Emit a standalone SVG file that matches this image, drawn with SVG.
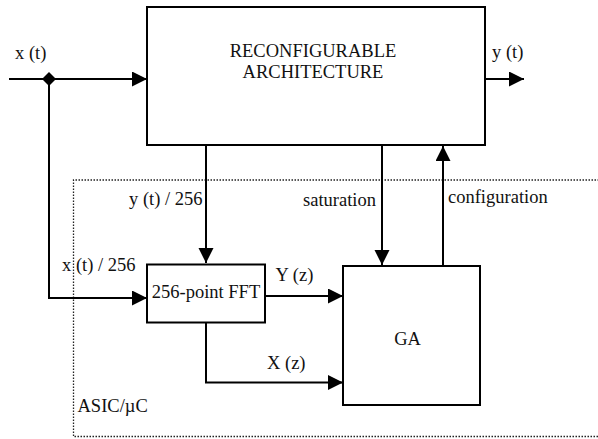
<svg xmlns="http://www.w3.org/2000/svg" width="598" height="439" viewBox="0 0 598 439">
<defs>
<marker id="arr" markerWidth="16" markerHeight="16" refX="15" refY="7.5" orient="auto" markerUnits="userSpaceOnUse">
<path d="M0,0 L15,7.5 L0,15 Z" fill="#000"/>
</marker>
</defs>
<style>
.t{font-family:"Liberation Serif","Times New Roman",serif;font-size:18.5px;fill:#111}
.box{fill:#fff;stroke:#000;stroke-width:2}
.ln{fill:none;stroke:#000;stroke-width:2}
.dot{fill:none;stroke:#222;stroke-width:1.3;stroke-dasharray:1.5 1.5}
</style>
<rect width="598" height="439" fill="#fff"/>
<g id="asic">
<path class="dot" d="M599,180 H73.5 V436.5 H599"/>
<text class="t" x="77.5" y="411.5">ASIC/µC</text>
</g>
<g id="connectors">
<path class="ln" d="M9,79 H147" marker-end="url(#arr)"/>
<path class="ln" d="M49,79 V298 H147" marker-end="url(#arr)"/>
<path class="ln" d="M485,79 H524" marker-end="url(#arr)"/>
<path class="ln" d="M206,145 V263" marker-end="url(#arr)"/>
<path class="ln" d="M382,145 V265" marker-end="url(#arr)"/>
<path class="ln" d="M443,266 V146" marker-end="url(#arr)"/>
<path class="ln" d="M265,296 H343" marker-end="url(#arr)"/>
<path class="ln" d="M206,322 V382.5 H343" marker-end="url(#arr)"/>
<path d="M49,72 L56,79 L49,86 L42,79 Z" fill="#000"/>
<text class="t" x="15" y="59">x (t)</text>
<text class="t" x="492" y="58">y (t)</text>
<text class="t" x="129" y="205">y (t) / 256</text>
<text class="t" x="303" y="205.5">saturation</text>
<text class="t" x="448" y="203">configuration</text>
<text class="t" x="62" y="271">x (t) / 256</text>
<text class="t" x="275.5" y="280.5">Y (z)</text>
<text class="t" x="267" y="369">X (z)</text>
</g>
<g id="reconfig">
<rect class="box" x="147" y="7" width="338" height="138"/>
<text class="t" x="313" y="56.5" text-anchor="middle">RECONFIGURABLE</text>
<text class="t" x="313" y="77.5" text-anchor="middle">ARCHITECTURE</text>
</g>
<g id="fft">
<rect class="box" x="147" y="264.5" width="118" height="58"/>
<text class="t" x="206" y="297.5" text-anchor="middle">256-point FFT</text>
</g>
<g id="ga">
<rect class="box" x="343" y="266" width="137" height="139"/>
<text class="t" x="407.5" y="345" text-anchor="middle">GA</text>
</g>
</svg>
